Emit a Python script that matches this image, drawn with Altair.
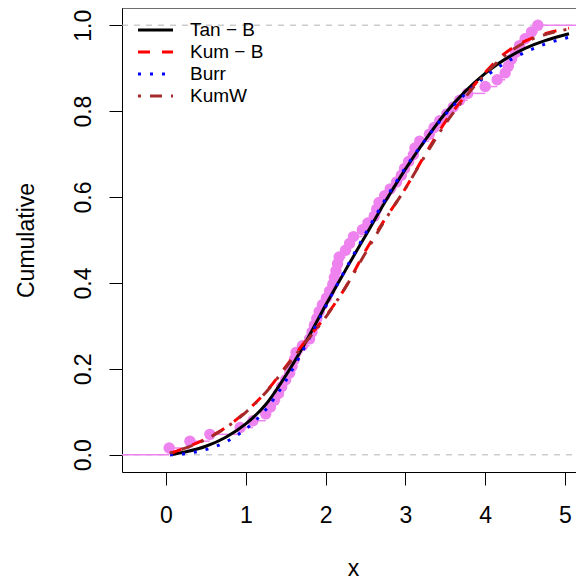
import altair as alt
import pandas as pd

# ---- data ----
ecdf_x = [0.04, 0.30, 0.55, 0.93, 1.09, 1.25, 1.31, 1.36, 1.41, 1.45, 1.50, 1.55,
          1.58, 1.61, 1.63, 1.71, 1.80, 1.83, 1.86, 1.89, 1.92, 1.96, 2.01, 2.05,
          2.09, 2.11, 2.13, 2.15, 2.17, 2.25, 2.30, 2.35, 2.46, 2.53, 2.61, 2.64,
          2.67, 2.74, 2.81, 2.89, 2.95, 2.99, 3.04, 3.10, 3.12, 3.18, 3.30, 3.36,
          3.43, 3.52, 3.60, 3.68, 3.78, 4.00, 4.15, 4.25, 4.29, 4.33, 4.38, 4.43,
          4.50, 4.58, 4.66]

curve_x = [0.05, 0.25, 0.50, 0.75, 1.00, 1.25, 1.50, 1.75, 2.00, 2.25, 2.50,
           2.75, 3.00, 3.25, 3.50, 3.75, 4.00, 4.25, 4.50, 4.75, 5.05]
tan_b = [0.000, 0.007, 0.020, 0.041, 0.072, 0.117, 0.184, 0.262, 0.348, 0.430, 0.510,
         0.590, 0.665, 0.733, 0.795, 0.846, 0.888, 0.921, 0.946, 0.964, 0.980]
kum_b = [0.003, 0.017, 0.037, 0.064, 0.100, 0.146, 0.205, 0.265, 0.322, 0.390, 0.475,
         0.550, 0.620, 0.700, 0.775, 0.835, 0.890, 0.935, 0.963, 0.980, 0.993]
burr = [0.000, 0.003, 0.012, 0.030, 0.060, 0.105, 0.172, 0.255, 0.345, 0.432, 0.515,
        0.595, 0.668, 0.733, 0.792, 0.840, 0.880, 0.912, 0.937, 0.956, 0.972]
kum_w = [0.004, 0.016, 0.036, 0.063, 0.099, 0.145, 0.203, 0.262, 0.320, 0.390, 0.470,
         0.548, 0.620, 0.697, 0.770, 0.832, 0.886, 0.930, 0.960, 0.978, 0.991]

series_names = ["Tan − B", "Kum − B", "Burr", "KumW"]
series_values = [tan_b, kum_b, burr, kum_w]
series_colors = ["#000000", "#FF0000", "#0000FF", "#A52A2A"]
series_dashes = [None, [12, 12], [3, 9], [3, 9, 12, 9]]

x_ticks = [0, 1, 2, 3, 4, 5]
y_ticks = [0.0, 0.2, 0.4, 0.6, 0.8, 1.0]

# ---- layout ----
XMIN, XMAX = -0.551, 5.238
YMIN, YMAX = -0.04, 1.04
W, H = 462, 464
FONT = "Liberation Sans"

xs = alt.Scale(domain=[XMIN, XMAX], nice=False, zero=False)
ys = alt.Scale(domain=[YMIN, YMAX], nice=False, zero=False)

xaxis = alt.Axis(values=x_ticks, format="d", title="x", grid=False,
                 tickSize=13, tickColor="black", domainColor="black",
                 labelFontSize=23, labelFont=FONT, labelColor="black",
                 labelBaseline="alphabetic", labelPadding=37, labelFlush=False,
                 titleFont=FONT, titleFontSize=23, titleFontWeight="normal",
                 titleColor="black", titleX=231, titleY=103,
                 titleBaseline="alphabetic", titleAlign="center")
yaxis = alt.Axis(values=y_ticks, format=".1f", title="Cumulative", grid=False,
                 tickSize=13, tickColor="black", domainColor="black",
                 labelFontSize=23, labelFont=FONT, labelColor="black",
                 labelAngle=270, labelAlign="center", labelBaseline="alphabetic",
                 labelPadding=19, labelFlush=False,
                 titleFont=FONT, titleFontSize=23, titleFontWeight="normal",
                 titleColor="black", titleAngle=270, titleX=-89, titleY=232,
                 titleBaseline="alphabetic", titleAlign="center")


def X(f):
    return alt.X(f, type="quantitative", scale=xs, axis=xaxis)


def Y(f):
    return alt.Y(f, type="quantitative", scale=ys, axis=yaxis)


n = len(ecdf_x)
pts = pd.DataFrame({"x": ecdf_x, "F": [(i + 1) / n for i in range(n)]})
seg = pd.DataFrame({"x": [XMIN] + ecdf_x, "x2": ecdf_x + [XMAX],
                    "F": [i / n for i in range(n + 1)]})
ref = pd.DataFrame({"v": [0.0, 1.0]})

layers = []
layers.append(alt.Chart(ref).mark_rule(color="#B3B3B3", strokeDash=[6, 6], strokeWidth=1)
              .encode(y=Y("v")))
layers.append(alt.Chart(seg).mark_rule(color="violet", strokeWidth=1.5, clip=True)
              .encode(x=X("x"), x2="x2", y=Y("F")))
layers.append(alt.Chart(pts).mark_point(filled=True, shape="circle", size=130,
                                        color="violet", opacity=1)
              .encode(x=X("x"), y=Y("F")))

for name, vals, col, dash in zip(series_names, series_values, series_colors, series_dashes):
    df = pd.DataFrame({"cx": curve_x, "cy": vals})
    kw = dict(color=col, strokeWidth=3, interpolate="monotone", clip=True)
    if dash is not None:
        kw["strokeDash"] = dash
    layers.append(alt.Chart(df).mark_line(**kw).encode(x=X("cx"), y=Y("cy")))

# top border of the box
dummy = pd.DataFrame({"a": [0]})
layers.append(alt.Chart(dummy).mark_rule(color="black", strokeWidth=1)
              .encode(x=alt.value(0), x2=alt.value(W), y=alt.value(0)))

# legend (no box, top-left)
for i, (name, col, dash) in enumerate(zip(series_names, series_colors, series_dashes)):
    yy = 22 + 22 * i
    kw = dict(color=col, strokeWidth=3)
    if dash is not None:
        kw["strokeDash"] = dash
    layers.append(alt.Chart(dummy).mark_rule(**kw)
                  .encode(x=alt.value(16), x2=alt.value(51), y=alt.value(yy)))
    layers.append(alt.Chart(dummy).mark_text(align="left", baseline="middle",
                                             fontSize=19, font=FONT, color="black")
                  .encode(x=alt.value(68), y=alt.value(yy), text=alt.value(name)))

chart = (alt.layer(*layers)
         .properties(width=W, height=H, autosize=alt.AutoSizeParams(type="none"),
                     padding={"left": 114, "top": 0, "right": -8, "bottom": 108})
         .configure_view(stroke=None)
         .configure(background="white"))

chart.save("out.html", embed_options={"renderer": "svg", "actions": False})
